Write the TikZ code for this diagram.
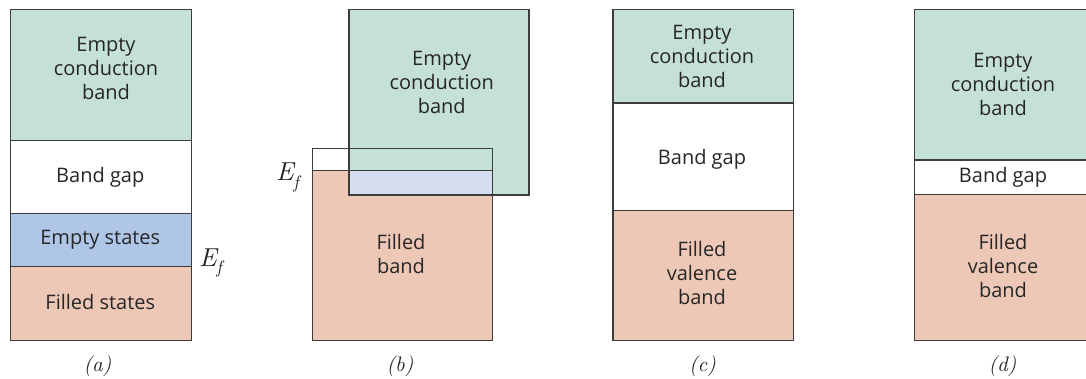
\documentclass[tikz,border=0pt]{standalone}
\usepackage{fontspec}
\setsansfont{Open Sans}
\newfontfamily\efont{lmroman10-italic.otf}
\definecolor{cgreen}{HTML}{C5E0D6}
\definecolor{cblueA}{HTML}{AFC6E7}
\definecolor{cblueB}{HTML}{D3DDEE}
\definecolor{csalmon}{HTML}{EEC8B7}
\definecolor{edge}{HTML}{3C3C3C}
\definecolor{txt}{HTML}{262626}
\newcommand{\fermiE}{E\kern-0.5pt\raisebox{-0.3em}{\fontsize{18}{18}\selectfont f}}
\begin{document}
\begin{tikzpicture}[x=1pt,y=-1pt,
  band/.style={draw=edge, line width=1.3pt, inner sep=0pt, anchor=north west},
  lbl/.style={font=\sffamily\fontsize{20}{24}\selectfont, text=txt, align=center, inner sep=0pt},
  sublabel/.style={font=\efont\fontsize{21}{21}\selectfont, inner sep=0pt, text=txt, anchor=base},
  ef/.style={font=\efont\fontsize{26}{26}\selectfont, inner sep=0pt, text=txt, anchor=base west}]
\useasboundingbox (0,0) rectangle (1086,379);
\clip (0,0) rectangle (1086,379);
% ---------- (a)
\node[band, fill=cgreen, minimum width=180.7pt, minimum height=131pt] (a-cb) at (10,9) {};
\node[band, fill=white, minimum width=180.7pt, minimum height=72.7pt] (a-gap) at (10,140) {};
\node[band, fill=cblueA, minimum width=180.7pt, minimum height=53pt] (a-es) at (10,212.7) {};
\node[band, fill=csalmon, minimum width=180.7pt, minimum height=74.3pt] (a-fs) at (10,265.7) {};
\node[lbl] (a-cbt) at (106,68) {Empty\\conduction\\band};
\node[lbl] (a-gapt) at (100.3,177) {Band gap};
\node[lbl] (a-est) at (100.3,240) {Empty states};
\node[lbl] (a-fst) at (100.3,302) {Filled states};
\node[ef] (a-ef) at (199,266) {\fermiE};
\node[sublabel] (a-sub) at (97.5,371) {(a)};
% ---------- (b)
\fill[csalmon] (311.7,170.7) rectangle (491.7,340);
\fill[white] (311.7,147.7) rectangle (348.3,170.7);
\fill[cgreen] (348.3,9) rectangle (528.3,194.3);
\fill[cblueB] (348.3,170.7) rectangle (491.7,194.3);
\node[band, minimum width=180pt, minimum height=185.3pt] (b-cb) at (348.3,9) {};
\node[band, minimum width=180pt, minimum height=192.3pt] (b-fb) at (311.7,147.7) {};
\coordinate (b-efl) at (311.7,170.7);
\coordinate (b-efr) at (491.7,170.7);
\draw[edge, line width=1.3pt] (b-efl) -- (b-efr);
\node[lbl] (b-cbt) at (441.7,82) {Empty\\conduction\\band};
\node[lbl] (b-fbt) at (401,254) {Filled\\band};
\node[ef] (b-ef) at (276,181) {\fermiE};
\node[sublabel] (b-sub) at (400,371) {(b)};
% ---------- (c)
\node[band, fill=cgreen, minimum width=180.4pt, minimum height=93.3pt] (c-cb) at (612.3,9) {};
\node[band, fill=white, minimum width=180.4pt, minimum height=107.7pt] (c-gap) at (612.3,102.3) {};
\node[band, fill=csalmon, minimum width=180.4pt, minimum height=130pt] (c-vb) at (612.3,210) {};
\node[lbl] (c-cbt) at (702,56) {Empty\\conduction\\band};
\node[lbl] (c-gapt) at (702,159) {Band gap};
\node[lbl] (c-vbt) at (702,273) {Filled\\valence\\band};
\node[sublabel] (c-sub) at (702.5,371) {(c)};
% ---------- (d)
\node[band, fill=cgreen, minimum width=180.3pt, minimum height=150.3pt] (d-cb) at (913.7,9) {};
\node[band, fill=white, minimum width=180.3pt, minimum height=34.7pt] (d-gap) at (913.7,159.3) {};
\node[band, fill=csalmon, minimum width=180.3pt, minimum height=146pt] (d-vb) at (913.7,194) {};
\node[lbl] (d-cbt) at (1003,84) {Empty\\conduction\\band};
\node[lbl] (d-gapt) at (1003,177) {Band gap};
\node[lbl] (d-vbt) at (1003,266) {Filled\\valence\\band};
\node[sublabel] (d-sub) at (1002.5,371) {(d)};
\end{tikzpicture}
\end{document}
